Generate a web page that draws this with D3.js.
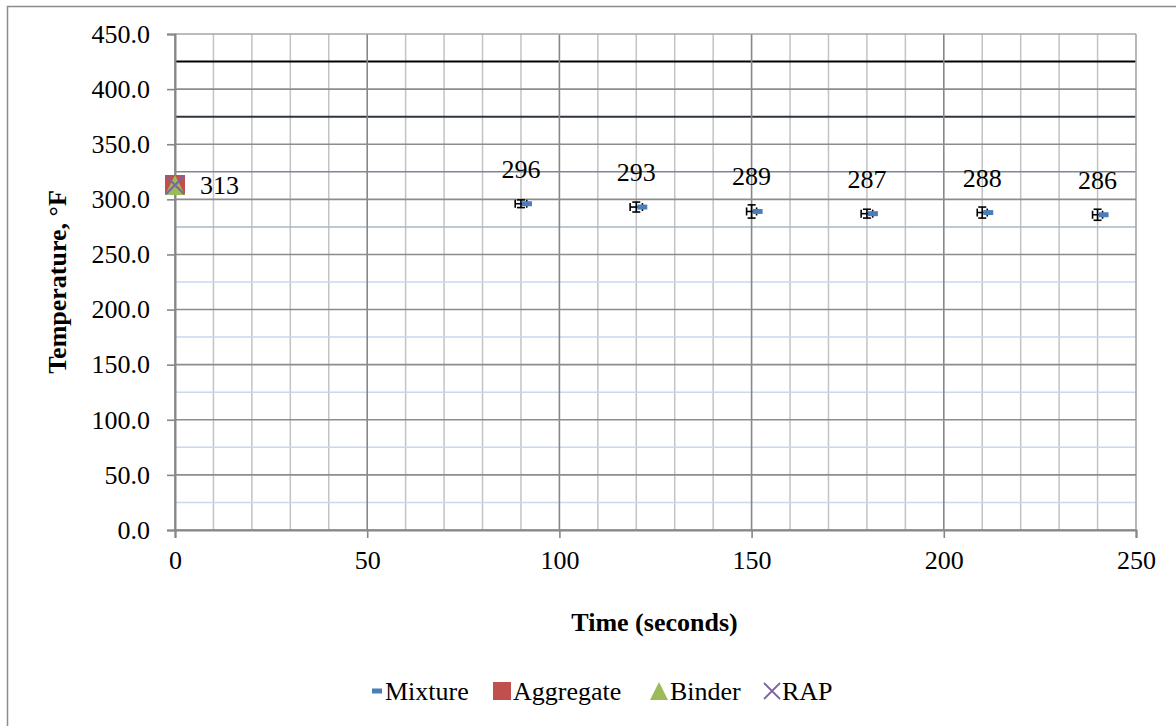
<!DOCTYPE html>
<html><head><meta charset="utf-8">
<script src="https://cdn.jsdelivr.net/npm/d3@7/dist/d3.min.js"></script>
<style>body{margin:0;background:#fff}</style>
</head><body><svg id="c" width="1176" height="726"></svg>
<script>
const timeTicks = [0, 50, 100, 150, 200, 250];
const timeMinor = d3.range(0, 251, 10);
const tempTicks = [0, 50, 100, 150, 200, 250, 300, 350, 400, 450];
const tempMinor = [25, 75, 125, 175, 225, 275, 325, 375, 425];
const tempMinorColors = ["#c9d8ef", "#c9d8ef", "#c9d8ef", "#c9d8ef", "#c9d8ef", "#a9b6cc", "#7f8796", "#2e343d", "#000000"];
const mixTime = [90, 120, 150, 180, 210, 240];
const mixTemp = [296, 293, 289, 287, 288, 286];
const mixLabel = ["296", "293", "289", "287", "288", "286"];
const mixXErr = [1.5, 1.6, 1.3, 1.5, 1.3, 1.3];
const mixYErr = [3.5, 4.5, 6, 4, 5, 5];
const srcTime = [0];
const aggregateTemp = [313];
const binderTemp = [313];
const rapTemp = [313];
const srcLabel = ["313"];
const legendNames = ["Mixture", "Aggregate", "Binder", "RAP"];

const FONT = "Liberation Serif";
const svg = d3.select("#c");
const L = 175, R = 1136, T = 34, B = 530;
const x = d3.scaleLinear().domain([0, 250]).range([L, R]);
const y = d3.scaleLinear().domain([0, 450]).range([B, T]);

function txt(sel, bold) {
  return sel.attr("font-family", FONT).attr("font-weight", bold ? "bold" : "normal")
    .attr("font-size", 26).attr("fill", "#000");
}

svg.append("rect").attr("x", 7.5).attr("y", 6.5).attr("width", 1200).attr("height", 800)
  .attr("fill", "#fff").attr("stroke", "#8c8c8c").attr("stroke-width", 1.5);

const g = svg.append("g");
g.selectAll(".vmin").data(timeMinor.filter(d => d % 50 !== 0)).join("line")
  .attr("x1", d => x(d)).attr("x2", d => x(d)).attr("y1", T).attr("y2", B)
  .attr("stroke", "#c3c3c3").attr("stroke-width", 1.5);
g.selectAll(".hmin").data(tempMinor).join("line")
  .attr("x1", L).attr("x2", R).attr("y1", d => y(d)).attr("y2", d => y(d))
  .attr("stroke", (d, i) => tempMinorColors[i]).attr("stroke-width", (d, i) => i >= 7 ? 2 : 1.5);
g.selectAll(".vmaj").data(timeTicks).join("line")
  .attr("x1", d => x(d)).attr("x2", d => x(d)).attr("y1", T).attr("y2", B)
  .attr("stroke", d => d === 250 ? "#a6a6a6" : "#878787").attr("stroke-width", 1.6);
g.selectAll(".hmaj").data(tempTicks).join("line")
  .attr("x1", L).attr("x2", R).attr("y1", d => y(d)).attr("y2", d => y(d))
  .attr("stroke", d => d === 450 ? "#a6a6a6" : "#8c8c8c").attr("stroke-width", 1.6);

const yAxis = d3.axisLeft(y).tickValues(tempTicks).tickFormat(d3.format(".1f")).tickSize(8).tickPadding(17);
const ya = svg.append("g").attr("transform", `translate(${L},0)`).call(yAxis);
const xAxis = d3.axisBottom(x).tickValues(timeTicks).tickFormat(d3.format("d")).tickSize(8).tickPadding(13);
const xa = svg.append("g").attr("transform", `translate(0,${B})`).call(xAxis);
[ya, xa].forEach(a => {
  a.attr("font-family", FONT).attr("font-size", 26);
  a.select(".domain").attr("stroke", "#878787").attr("stroke-width", 2);
  a.selectAll(".tick line").attr("stroke", "#878787").attr("stroke-width", 1.6);
  txt(a.selectAll(".tick text"));
});
xa.selectAll(".tick text").attr("dy", "0.71em");

txt(svg.append("text"), true).attr("x", (L + R) / 2 - 1).attr("y", 631).attr("text-anchor", "middle").text("Time (seconds)");
txt(svg.append("text"), true).attr("transform", `translate(66,${(T + B) / 2}) rotate(-90)`).attr("text-anchor", "middle").text("Temperature, °F");

const eb = svg.append("g").attr("stroke", "#000").attr("stroke-width", 1.6).attr("fill", "none");
mixTime.forEach((t, i) => {
  const cx = x(t), cy = y(mixTemp[i]);
  const x0 = x(t - mixXErr[i]), x1 = x(t + mixXErr[i]);
  const y0 = y(mixTemp[i] - mixYErr[i]), y1 = y(mixTemp[i] + mixYErr[i]);
  const cap = 4;
  eb.append("line").attr("x1", x0).attr("x2", x1).attr("y1", cy).attr("y2", cy);
  eb.append("line").attr("x1", x0).attr("x2", x0).attr("y1", cy - cap).attr("y2", cy + cap);
  eb.append("line").attr("x1", x1).attr("x2", x1).attr("y1", cy - cap).attr("y2", cy + cap);
  eb.append("line").attr("x1", cx).attr("x2", cx).attr("y1", y0).attr("y2", y1);
  eb.append("line").attr("x1", cx - cap).attr("x2", cx + cap).attr("y1", y0).attr("y2", y0);
  eb.append("line").attr("x1", cx - cap).attr("x2", cx + cap).attr("y1", y1).attr("y2", y1);
});
svg.selectAll(".mix").data(mixTime).join("rect")
  .attr("x", d => x(d) + 1).attr("y", (d, i) => y(mixTemp[i]) - 2.5).attr("width", 10).attr("height", 5)
  .attr("fill", "#4a7ebb");
txt(svg.selectAll(".mlab").data(mixTime).join("text"))
  .attr("x", d => x(d)).attr("y", (d, i) => y(mixTemp[i]) - 26).attr("text-anchor", "middle")
  .text((d, i) => mixLabel[i]);

srcTime.forEach((t, i) => {
  const cx = x(t);
  svg.append("rect").attr("x", cx - 10).attr("y", y(aggregateTemp[i]) - 10).attr("width", 20).attr("height", 20)
    .attr("fill", "#c0504d");
  const cyb = y(binderTemp[i]);
  svg.append("path").attr("d", `M${cx},${cyb - 10}L${cx + 10},${cyb + 10}L${cx - 10},${cyb + 10}Z`).attr("fill", "#9bbb59");
  const cyr = y(rapTemp[i]);
  svg.append("path").attr("d", `M${cx - 9},${cyr - 9}L${cx + 9},${cyr + 9}M${cx + 9},${cyr - 9}L${cx - 9},${cyr + 9}`)
    .attr("stroke", "#8064a2").attr("stroke-width", 2);
  txt(svg.append("text")).attr("x", cx + 25).attr("y", y(aggregateTemp[i]) + 9).text(srcLabel[i]);
});

const ly = 691;
const lg = svg.append("g");
const lx = [372, 493, 650, 764];
lg.append("rect").attr("x", lx[0]).attr("y", ly - 2.5).attr("width", 10).attr("height", 5).attr("fill", "#4a7ebb");
lg.append("rect").attr("x", lx[1]).attr("y", ly - 9).attr("width", 18).attr("height", 18).attr("fill", "#c0504d");
lg.append("path").attr("d", `M${lx[2] + 9},${ly - 9}L${lx[2] + 18},${ly + 9}L${lx[2]},${ly + 9}Z`).attr("fill", "#9bbb59");
lg.append("path").attr("d", `M${lx[3]},${ly - 8}L${lx[3] + 16},${ly + 8}M${lx[3] + 16},${ly - 8}L${lx[3]},${ly + 8}`)
  .attr("stroke", "#8064a2").attr("stroke-width", 1.8);
const tx = [385, 513, 670, 782];
legendNames.forEach((n, i) => {
  txt(lg.append("text")).attr("x", tx[i]).attr("y", ly + 9).text(n);
});
</script></body></html>
